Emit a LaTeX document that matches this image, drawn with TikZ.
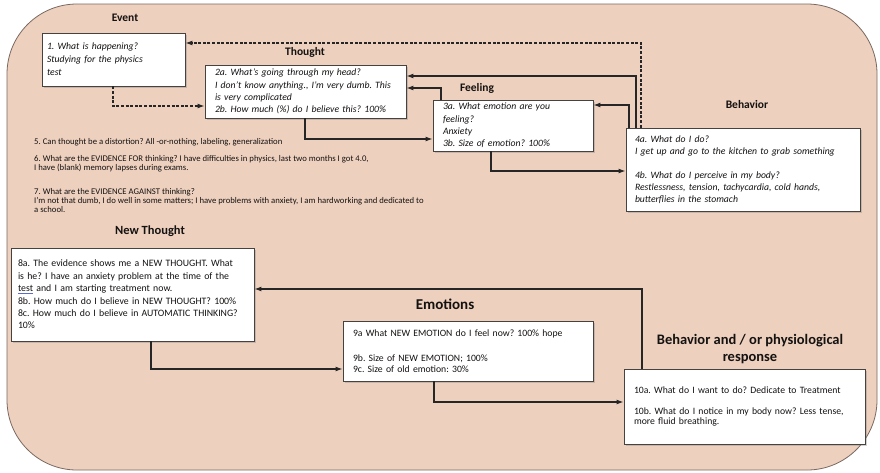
\documentclass[tikz,border=0pt]{standalone}
\usepackage{fontspec}
\setmainfont{Carlito}
\usetikzlibrary{arrows.meta,shadows}
\definecolor{bgpeach}{RGB}{238,208,190}
\definecolor{panelline}{RGB}{120,104,96}
\definecolor{boxline}{RGB}{70,66,64}
\definecolor{inktext}{RGB}{20,18,17}
\definecolor{spellmark}{RGB}{90,110,200}
\tikzset{
  stagebox/.style={rectangle, draw=boxline, line width=0.9pt, fill=white,
    drop shadow={shadow xshift=1.6pt, shadow yshift=-1.6pt, opacity=0.35},
    inner ysep=0pt, align=left, text=inktext},
  caption/.style={font=\bfseries, text=inktext, inner sep=0pt},
  freetext/.style={font=\fontsize{8.7}{9}\selectfont, text=inktext, align=left, inner sep=0pt, anchor=west},
  flow/.style={draw=black!85, line width=1.2pt, -{Latex[length=7pt,width=5pt]}},
  backflow/.style={flow, dashed, dash pattern=on 3pt off 1.6pt}
}
% word marked with a blue underline
\newcommand{\markedword}[1]{{\color{spellmark}\underline{\color{inktext}#1}}}
\begin{document}
\frenchspacing
\begin{tikzpicture}[x=1pt,y=-1pt]
\useasboundingbox (0,0) rectangle (880,472);
% rounded peach panel behind everything
\draw[fill=bgpeach, draw=panelline, line width=0.8pt, rounded corners=70pt] (7,4) rectangle (877,470);

% section captions
\node[caption, font=\bfseries\fontsize{11.5}{13}\selectfont] (capev) at (125,18) {Event};
\node[caption, font=\bfseries\fontsize{11.5}{13}\selectfont] (capth) at (305,52) {Thought};
\node[caption, font=\bfseries\fontsize{11.5}{13}\selectfont] (capfe) at (477,88) {Feeling};
\node[caption, font=\bfseries\fontsize{11.5}{13}\selectfont] (capbe) at (747,105) {Behavior};
\node[caption, font=\bfseries\fontsize{12.5}{14}\selectfont] (capnt) at (150,231) {New Thought};
\node[caption, font=\bfseries\fontsize{15}{17}\selectfont] (capem) at (445,304) {Emotions};
\node[caption, font=\bfseries\fontsize{14.5}{17}\selectfont, align=center] (capbr) at (750,349.5) {Behavior and / or physiological\\response};

% first-pass boxes (automatic thinking)
\node[stagebox, minimum width=143pt, minimum height=53pt, text width=133pt, inner xsep=5pt,
  font=\itshape\fontsize{9.7}{13}\selectfont] (ev) at (113.5,59.5)
  {1. What is happening?\\Studying for the physics\\test};
\node[stagebox, minimum width=201pt, minimum height=53pt, text width=181pt, inner xsep=10pt,
  font=\itshape\fontsize{9.7}{12.4}\selectfont] (th) at (305.5,91.5)
  {2a. What's going through my head?\\I don't know anything., I'm very dumb. This\\is very complicated\\2b. How much (\%) do I believe this? 100\%};
\node[stagebox, minimum width=160pt, minimum height=51pt, text width=140pt, inner xsep=10pt,
  font=\itshape\fontsize{9.7}{12.4}\selectfont] (fe) at (513,125.5)
  {3a. What emotion are you\\feeling?\\Anxiety\\3b. Size of emotion? 100\%};
\node[stagebox, minimum width=234pt, minimum height=83pt, text width=216pt, inner xsep=9pt,
  font=\itshape\fontsize{9.7}{12}\selectfont] (beh) at (743,169.5)
  {4a. What do I do?\\I get up and go to the kitchen to grab something\\[12pt]4b. What do I perceive in my body?\\Restlessness, tension, tachycardia, cold hands,\\butterflies in the stomach};

% questions about the thought
\node[freetext] (q5) at (34,142) {5. Can thought be a distortion? All -or-nothing, labeling, generalization};
\node[freetext] (q6) at (34,164) {6. What are the EVIDENCE FOR thinking? I have difficulties in physics, last two months I got 4.0,\\I have (blank) memory lapses during exams.};
\node[freetext] (q7) at (34,200.5) {7. What are the EVIDENCE AGAINST thinking?\\I'm not that dumb, I do well in some matters; I have problems with anxiety, I am hardworking and dedicated to\\a school.};

% second-pass boxes (new thought)
\node[stagebox, minimum width=243pt, minimum height=93pt, text width=229pt, inner xsep=7pt,
  font=\fontsize{9.8}{12.4}\selectfont] (nt) at (132.5,294.5)
  {8a. The evidence shows me a NEW THOUGHT. What\\is he? I have an anxiety problem at the time of the\\\markedword{test} and I am starting treatment now.\\8b. How much do I believe in NEW THOUGHT? 100\%\\8c. How much do I believe in AUTOMATIC THINKING?\\10\%};
\node[stagebox, minimum width=250pt, minimum height=60pt, text width=230pt, inner xsep=10pt,
  font=\fontsize{9.7}{11}\selectfont] (em) at (468,351)
  {9a What NEW EMOTION do I feel now? 100\% hope\\[14pt]9b. Size of NEW EMOTION; 100\%\\9c. Size of old emotion: 30\%};
\node[stagebox, minimum width=241pt, minimum height=75pt, text width=221pt, inner xsep=10pt,
  font=\fontsize{9.7}{10}\selectfont] (beh2) at (744.5,406.5)
  {10a. What do I want to do? Dedicate to Treatment\\[11pt]10b. What do I notice in my body now? Less tense,\\more fluid breathing.};

% connectors of the first pass
\draw[backflow] (ev.south -| 113,0) |- (th.west |- 0,106);
\draw[backflow] (beh.north -| 641,0) |- (ev.east |- 0,43);
\draw[flow] (beh.north -| 636,0) |- (th.east |- 0,76);
\draw[flow] (beh.north -| 629,0) |- (fe.east |- 0,105);
\draw[flow] (fe.north -| 441,0) |- (th.east |- 0,88);
\draw[flow] (th.south -| 305,0) |- (fe.west |- 0,139);
\draw[flow] (fe.south -| 491,0) |- (beh.west |- 0,171);

% connectors of the second pass
\draw[flow] (beh2.north -| 642,0) |- (nt.east |- 0,289);
\draw[flow] (nt.south -| 151,0) |- (em.west |- 0,369);
\draw[flow] (em.south -| 434,0) |- (beh2.west |- 0,402);
\end{tikzpicture}
\end{document}
